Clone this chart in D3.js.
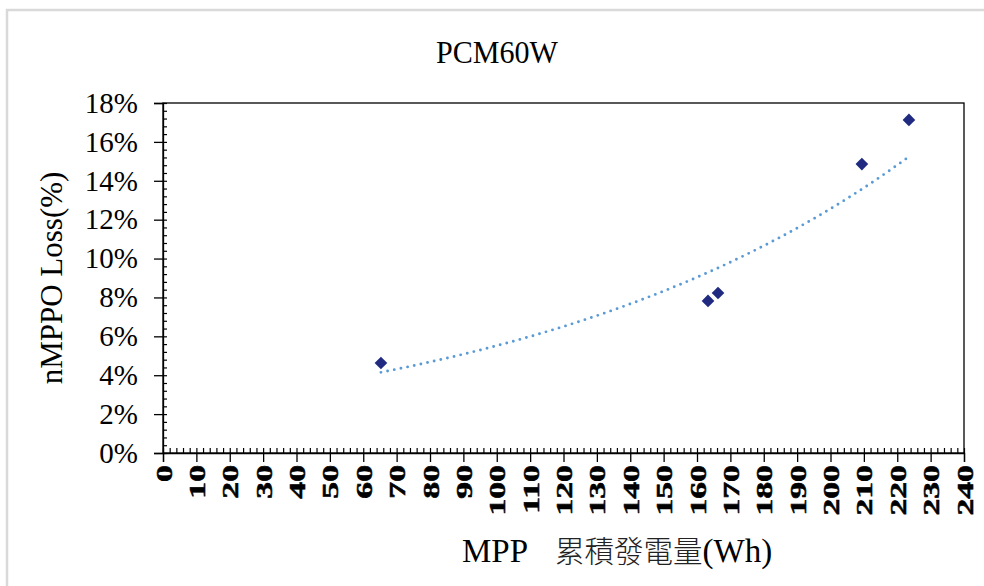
<!DOCTYPE html>
<html>
<head>
<meta charset="utf-8">
<script src="https://cdn.jsdelivr.net/npm/d3@7"></script>
<style>
  html, body { margin: 0; padding: 0; background: #fff; }
  svg { display: block; }
</style>
</head>
<body>
<svg id="chart" width="984" height="586"></svg>
<script>
// ---- data ----
const chartTitle = "PCM60W";
const yTitle = "nMPPO Loss(%)";
const xTitleA = "MPP";
const xTitleB = "累積發電量(Wh)";
const energyWh = [65.3, 163.3, 166.3, 209.4, 223.5];
const lossPct  = [0.0463, 0.0782, 0.0823, 0.1486, 0.1713];
const xTickValues = d3.range(0, 241, 10);
const yTickValues = [0, 0.02, 0.04, 0.06, 0.08, 0.10, 0.12, 0.14, 0.16, 0.18];

// ---- layout ----
const W = 984, H = 586;
const plot = { left: 163, right: 964, top: 103, bottom: 453 };
const svg = d3.select("#chart");
const serif = "'Liberation Serif','Times New Roman',serif";

// outer frame (gray)
svg.append("path")
  .attr("d", `M7,${H} L7,10 L${W},10`)
  .attr("fill", "none").attr("stroke", "#d9d9d9").attr("stroke-width", 2.5);

const x = d3.scaleLinear().domain([0, 240]).range([plot.left, plot.right]);
const y = d3.scaleLinear().domain([0, 0.18]).range([plot.bottom, plot.top]);

// plot border
svg.append("rect")
  .attr("x", plot.left).attr("y", plot.top)
  .attr("width", plot.right - plot.left).attr("height", plot.bottom - plot.top)
  .attr("fill", "none").attr("stroke", "#000").attr("stroke-width", 1.3);

// minor ticks inside
const yMinor = d3.range(0, 0.1801, 0.004);
const xMinor = d3.range(0, 240.01, 2);
svg.append("g").attr("transform", `translate(${plot.left},0)`)
  .call(d3.axisRight(y).tickValues(yMinor).tickSize(4).tickFormat(""))
  .call(g => g.select(".domain").remove())
  .call(g => g.selectAll("line").attr("stroke", "#000").attr("stroke-width", 1.2));
svg.append("g").attr("transform", `translate(0,${plot.bottom})`)
  .call(d3.axisTop(x).tickValues(xMinor).tickSize(5).tickFormat(""))
  .call(g => g.select(".domain").remove())
  .call(g => g.selectAll("line").attr("stroke", "#000").attr("stroke-width", 1.2));

// y axis major
svg.append("g").attr("transform", `translate(${plot.left},0)`)
  .call(d3.axisLeft(y).tickValues(yTickValues).tickSize(9).tickPadding(16)
        .tickFormat(d => Math.round(d * 100) + "%"))
  .call(g => g.select(".domain").attr("stroke", "#000").attr("stroke-width", 1.3))
  .call(g => g.selectAll("line").attr("stroke", "#000").attr("stroke-width", 1.3))
  .call(g => g.selectAll("text")
     .attr("font-family", serif).attr("font-size", 29).attr("fill", "#000"));

// x axis major
svg.append("g").attr("transform", `translate(0,${plot.bottom})`)
  .call(d3.axisBottom(x).tickValues(xTickValues).tickSize(9).tickFormat(d => String(d)))
  .call(g => g.select(".domain").attr("stroke", "#000").attr("stroke-width", 1.3))
  .call(g => g.selectAll("line").attr("stroke", "#000").attr("stroke-width", 1.3))
  .call(g => g.selectAll("text")
     .attr("x", 0).attr("y", 0).attr("dy", "0.36em")
     .attr("transform", "translate(0,12) rotate(-90) scale(1.5,1)")
     .attr("text-anchor", "end")
     .attr("font-family", serif).attr("font-weight", "bold")
     .attr("font-size", 22.5).attr("fill", "#000")
     .attr("stroke", "#000").attr("stroke-width", 0.5));

// trend line: exponential least-squares fit of the data (as Excel does)
const lx = energyWh, ly = lossPct.map(Math.log);
const mx = d3.mean(lx), my = d3.mean(ly);
const b = d3.sum(lx, (v, i) => (v - mx) * (ly[i] - my)) / d3.sum(lx, v => (v - mx) ** 2);
const a = Math.exp(my - b * mx);
const [x0, x1] = d3.extent(energyWh);
const trend = d3.range(0, 101).map(i => { const xv = x0 + (x1 - x0) * i / 100; return [xv, a * Math.exp(b * xv)]; });
svg.append("path")
  .attr("d", d3.line().x(d => x(d[0])).y(d => y(d[1]))(trend))
  .attr("fill", "none").attr("stroke", "#5b9bd5").attr("stroke-width", 2.9)
  .attr("stroke-linecap", "round").attr("stroke-dasharray", "0,6.8");

// markers
const diamond = d3.symbol().type(d3.symbolSquare).size(80);
svg.append("g").selectAll("path").data(energyWh).join("path")
  .attr("d", diamond)
  .attr("transform", (d, i) => `translate(${x(d)},${y(lossPct[i])}) rotate(45)`)
  .attr("fill", "#1f2a80");

// titles
svg.append("text").attr("x", 497).attr("y", 63).attr("text-anchor", "middle")
  .attr("font-family", serif).attr("font-size", 32).attr("fill", "#000")
  .attr("textLength", 122).attr("lengthAdjust", "spacingAndGlyphs")
  .text(chartTitle);

svg.append("text")
  .attr("transform", "translate(62,278) rotate(-90)")
  .attr("text-anchor", "middle")
  .attr("font-family", serif).attr("font-size", 31).attr("fill", "#000")
  .text(yTitle);

const xt = svg.append("text").attr("y", 562)
  .attr("font-family", serif).attr("font-size", 33).attr("fill", "#000");
xt.append("tspan").attr("x", 462).text(xTitleA);
xt.append("tspan").attr("x", 555)
  .attr("font-family", "'Noto Sans CJK TC','Noto Sans CJK SC',sans-serif")
  .attr("font-weight", 300).attr("font-size", 29.5).attr("fill", "#222")
  .text(xTitleB.slice(0, 5));
xt.append("tspan").text(xTitleB.slice(5));
</script>
</body>
</html>
